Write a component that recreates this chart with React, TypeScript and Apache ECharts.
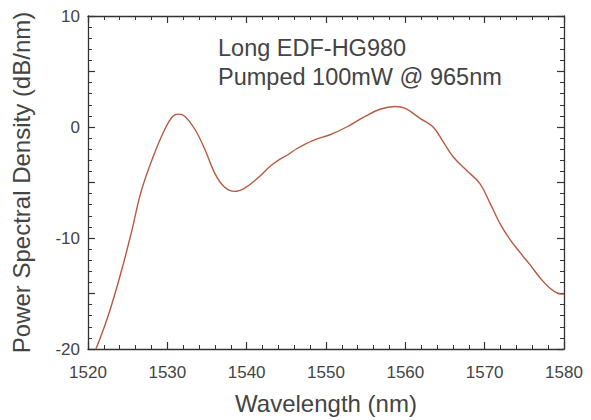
import React, { useEffect, useRef } from "react";
import * as echarts from "echarts";

const wavelengths = [
  1521.0, 1522.5, 1524.2, 1525.5, 1526.7, 1528.2, 1529.7, 1530.7, 1531.4, 1532.2,
  1533.45, 1534.7, 1536.0, 1537.2, 1538.5, 1539.75, 1541.4, 1543.1, 1544.2, 1545.2,
  1546.3, 1548.4, 1550.5, 1552.6, 1554.7, 1556.8, 1558.7, 1560.0, 1561.85, 1563.5,
  1564.8, 1566.05, 1567.7, 1569.4, 1570.7, 1571.9, 1573.2, 1574.45, 1575.7, 1577.0,
  1578.2, 1579.3, 1580.0,
];
const psd = [
  -20.0, -17.1, -13.0, -9.4, -5.8, -2.7, -0.18, 0.96, 1.16, 0.96,
  -0.18, -1.96, -4.2, -5.4, -5.8, -5.5, -4.6, -3.45, -2.9, -2.5,
  -1.96, -1.2, -0.7, 0.0, 0.87, 1.6, 1.85, 1.67, 0.78, 0.0,
  -1.37, -2.7, -3.9, -5.1, -6.9, -8.66, -10.15, -11.3, -12.4, -13.6,
  -14.5, -15.0, -15.05,
];
const annotationLines = ["Long EDF-HG980", "Pumped 100mW @ 965nm"];
const xTitle = "Wavelength (nm)";
const yTitle = "Power Spectral Density (dB/nm)";

const FONT = "'Liberation Sans', Arial, sans-serif";
const TEXT_COLOR = "#444";
const AXIS_COLOR = "#333";

export default function App() {
  const ref = useRef<HTMLDivElement>(null);
  useEffect(() => {
    if (!ref.current) return;
    const chart = echarts.init(ref.current, undefined, { renderer: "svg" });
    const xLine = { show: true, onZeroAxisIndex: 2, lineStyle: { color: AXIS_COLOR, width: 1.3 } };
    const yLine = { show: true, lineStyle: { color: AXIS_COLOR, width: 1.3 } };
    const tick = { show: true, inside: true, length: 7, lineStyle: { color: AXIS_COLOR, width: 1.2 } };
    const minor = { show: true, splitNumber: 5, length: 4, lineStyle: { color: AXIS_COLOR, width: 1 } };
    const data = wavelengths.map((w, i) => [w, psd[i]]);
    chart.setOption({
      animation: false,
      backgroundColor: "#fff",
      textStyle: { fontFamily: FONT },
      grid: { left: 88, top: 16, right: 27, bottom: 68, show: false },
      xAxis: [
        {
          type: "value",
          min: 1520,
          max: 1580,
          interval: 10,
          position: "bottom",
          axisLine: xLine,
          axisTick: tick,
          minorTick: minor,
          splitLine: { show: false },
          axisLabel: {
            color: TEXT_COLOR,
            fontSize: 17,
            fontFamily: FONT,
            margin: 15,
            formatter: (v: number) => String(v),
          },
          name: xTitle,
          nameLocation: "middle",
          nameGap: 42,
          nameTextStyle: { color: TEXT_COLOR, fontSize: 24, fontFamily: FONT },
        },
        {
          type: "value",
          min: 1520,
          max: 1580,
          interval: 10,
          position: "top",
          axisLine: xLine,
          axisTick: tick,
          minorTick: minor,
          splitLine: { show: false },
          axisLabel: { show: false },
        },
      ],
      yAxis: [
        {
          type: "value",
          min: -20,
          max: 10,
          interval: 5,
          position: "left",
          axisLine: yLine,
          axisTick: tick,
          minorTick: minor,
          splitLine: { show: false },
          axisLabel: {
            color: TEXT_COLOR,
            fontSize: 17,
            fontFamily: FONT,
            margin: 8,
            formatter: (v: number) => (v % 10 === 0 ? String(v) : ""),
          },
          name: yTitle,
          nameLocation: "middle",
          nameGap: 55,
          nameTextStyle: { color: TEXT_COLOR, fontSize: 24, fontFamily: FONT },
        },
        {
          type: "value",
          min: -20,
          max: 10,
          interval: 5,
          position: "right",
          axisLine: yLine,
          axisTick: tick,
          minorTick: minor,
          splitLine: { show: false },
          axisLabel: { show: false },
        },
        {
          type: "value",
          min: 1,
          max: 2,
          show: false,
        },
      ],
      graphic: annotationLines.map((t, i) => ({
        type: "text",
        left: 218,
        top: 36 + i * 29,
        style: { text: t, fill: TEXT_COLOR, fontSize: 23.5, fontFamily: FONT },
      })),
      series: [
        {
          type: "line",
          data,
          smooth: 0.4,
          showSymbol: false,
          clip: true,
          lineStyle: { color: "#b85a40", width: 1.4 },
        },
      ],
    });
    return () => chart.dispose();
  }, []);
  return (
    <div
      ref={ref}
      style={{ position: "absolute", left: 0, top: 0, width: 591, height: 420 }}
    />
  );
}
